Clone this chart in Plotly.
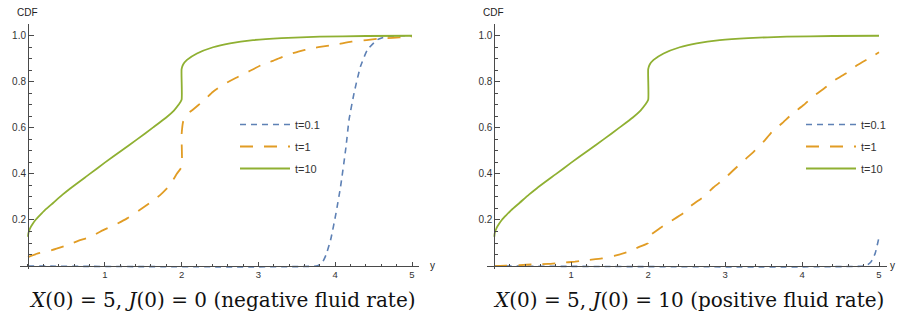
import plotly.graph_objects as go

W, H = 898, 321

# ---------------- data ----------------
series_names = ["t=0.1", "t=1", "t=10"]

# Left panel: X(0)=5, J(0)=0
x_left_t01 = [0, 3.75, 3.79, 3.84, 3.88, 3.94, 4.01, 4.07, 4.14, 4.18, 4.25, 4.33, 4.42, 4.55, 4.68, 4.8, 5.0]
y_left_t01 = [0, 0, 0.005, 0.02, 0.048, 0.113, 0.229, 0.345, 0.516, 0.635, 0.758, 0.867, 0.939, 0.983, 0.997, 1.0, 1.0]

x_left_t1 = [0, 0.13, 0.31, 0.48, 0.66, 0.81, 0.98, 1.13, 1.29, 1.44, 1.59, 1.72, 1.85, 1.94, 2.0, 2.0, 2.02,
             2.06, 2.15, 2.28, 2.41, 2.55, 2.72, 2.87, 3.04, 3.19, 3.37, 3.52, 3.69, 3.87, 4.04, 4.21, 4.41,
             4.56, 4.75, 4.93, 5.0]
y_left_t1 = [0.039, 0.055, 0.069, 0.087, 0.110, 0.127, 0.156, 0.178, 0.207, 0.240, 0.275, 0.308, 0.352, 0.402,
             0.43, 0.57, 0.627, 0.655, 0.680, 0.716, 0.757, 0.789, 0.819, 0.844, 0.873, 0.891, 0.916, 0.931,
             0.945, 0.955, 0.964, 0.974, 0.981, 0.987, 0.991, 0.995, 0.996]

x_t10 = [0, 0.005, 0.015, 0.03, 0.06, 0.1, 0.15, 0.22, 0.33, 0.45, 0.55, 0.8, 1.0, 1.22, 1.42, 1.63, 1.8, 1.9,
         1.96, 2.0, 2.0, 2.02, 2.07, 2.2, 2.41, 2.63, 2.93, 3.3, 3.8, 4.4, 5.0]
y_t10 = [0.127, 0.142, 0.153, 0.166, 0.183, 0.201, 0.219, 0.243, 0.275, 0.310, 0.337, 0.399, 0.449, 0.502, 0.550,
         0.602, 0.645, 0.675, 0.700, 0.722, 0.855, 0.875, 0.895, 0.923, 0.950, 0.967, 0.981, 0.990, 0.996, 0.999, 1.0]

# Right panel: X(0)=5, J(0)=10
x_right_t01 = [0, 4.8, 4.85, 4.9, 4.95, 5.0]
y_right_t01 = [0, 0, 0.005, 0.02, 0.055, 0.125]

x_right_t1 = [0, 0.15, 0.33, 0.51, 0.70, 0.88, 1.05, 1.22, 1.40, 1.57, 1.74, 1.89, 2.0, 2.0, 2.13, 2.28, 2.46,
              2.57, 2.72, 2.85, 2.98, 3.11, 3.24, 3.37, 3.50, 3.61, 3.74, 3.87, 4.02, 4.15, 4.29, 4.43, 4.58,
              4.72, 4.87, 5.0]
y_right_t1 = [0.0, 0.002, 0.004, 0.007, 0.009, 0.014, 0.019, 0.026, 0.033, 0.045, 0.062, 0.084, 0.10, 0.125,
              0.159, 0.192, 0.231, 0.265, 0.301, 0.342, 0.376, 0.417, 0.457, 0.496, 0.540, 0.583, 0.620, 0.660,
              0.699, 0.738, 0.772, 0.808, 0.839, 0.873, 0.902, 0.928]

x_tick_vals = [1, 2, 3, 4, 5]
y_tick_vals = [0.2, 0.4, 0.6, 0.8, 1.0]
y_tick_text = ["0.2", "0.4", "0.6", "0.8", "1.0"]

panel_titles = ["<i>X</i>(0) = 5, <i>J</i>(0) = 0 (negative fluid rate)",
                "<i>X</i>(0) = 5, <i>J</i>(0) = 10 (positive fluid rate)"]

# ---------------- styling ----------------
colors = ["#5E81B5", "#E19C24", "#8FB032"]
dashes = ["6px,5px", "13px,11px", "solid"]
widths = [1.6, 1.8, 1.8]

def px_x(p):
    return p / W

def px_y(p):
    return 1 - p / H

fig = go.Figure()

panels = [
    (x_left_t01, y_left_t01, x_left_t1, y_left_t1, "x", "y", "legend"),
    (x_right_t01, y_right_t01, x_right_t1, y_right_t1, "x2", "y2", "legend2"),
]
for (xb, yb, xo, yo, xa, ya, lg) in panels:
    data = [(xb, yb), (xo, yo), (x_t10, y_t10)]
    for i, (xs, ys) in enumerate(data):
        fig.add_trace(go.Scatter(
            x=xs, y=ys, mode="lines", name=series_names[i],
            line=dict(color=colors[i], width=widths[i], dash=dashes[i], shape="spline", smoothing=0.5),
            xaxis=xa, yaxis=ya, legend=lg, legendgroup=lg + str(i),
            hoverinfo="skip",
        ))

axis_col = "#4a4a4a"
font_family = "Liberation Sans, Arial, sans-serif"

def xaxis_cfg(domain, rng, pos):
    return dict(domain=domain, range=rng, anchor="free", position=pos,
                showline=True, linecolor=axis_col, linewidth=1,
                ticks="inside", ticklen=4.5, tickwidth=1, tickcolor=axis_col,
                tickmode="array", tickvals=x_tick_vals,
                tickfont=dict(size=9.5, color="#333", family=font_family),
                showgrid=False, zeroline=False,
                minor=dict(ticks="inside", ticklen=2.5, tickwidth=1, tickcolor=axis_col,
                           tickmode="linear", tick0=0, dtick=0.2, showgrid=False))

def yaxis_cfg(domain, rng, pos):
    return dict(domain=domain, range=rng, anchor="free", position=pos,
                showline=True, linecolor=axis_col, linewidth=1,
                ticks="inside", ticklen=4.5, tickwidth=1, tickcolor=axis_col,
                tickmode="array", tickvals=y_tick_vals, ticktext=y_tick_text,
                tickfont=dict(size=10, color="#333", family=font_family),
                showgrid=False, zeroline=False,
                minor=dict(ticks="inside", ticklen=2.5, tickwidth=1, tickcolor=axis_col,
                           tickmode="linear", tick0=0, dtick=0.05, showgrid=False))

y_dom = [px_y(268.8), px_y(24)]
y_rng = [-0.012, 1.051]
x_pos_axis = px_y(266)

fig.update_layout(
    width=W, height=H,
    margin=dict(l=0, r=0, t=0, b=0),
    paper_bgcolor="white", plot_bgcolor="white",
    font=dict(family=font_family, color="#333"),
    xaxis=xaxis_cfg([px_x(20), px_x(419.3)], [-0.104, 5.095], x_pos_axis),
    yaxis=yaxis_cfg(y_dom, y_rng, px_x(28)),
    xaxis2=xaxis_cfg([px_x(486.7), px_x(886.7)], [-0.099, 5.1], x_pos_axis),
    yaxis2=yaxis_cfg(y_dom, y_rng, px_x(494.3)),
    legend=dict(x=px_x(235), y=px_y(110), xanchor="left", yanchor="top",
                bgcolor="rgba(0,0,0,0)", font=dict(size=11, color="#333", family=font_family),
                itemwidth=50, tracegroupgap=3),
    legend2=dict(x=px_x(801), y=px_y(110), xanchor="left", yanchor="top",
                 bgcolor="rgba(0,0,0,0)", font=dict(size=11, color="#333", family=font_family),
                 itemwidth=50, tracegroupgap=3),
    showlegend=True,
)

annotations = [
    dict(text="CDF", x=px_x(27), y=px_y(12)),
    dict(text="CDF", x=px_x(493), y=px_y(12)),
    dict(text="y", x=px_x(432), y=px_y(265)),
    dict(text="y", x=px_x(892), y=px_y(265)),
]
for a in annotations:
    fig.add_annotation(xref="paper", yref="paper", x=a["x"], y=a["y"], text=a["text"],
                       showarrow=False, xanchor="center", yanchor="middle",
                       font=dict(size=10, color="#222", family=font_family))

for txt, cx in zip(panel_titles, [222, 688.5]):
    fig.add_annotation(xref="paper", yref="paper", x=px_x(cx), y=px_y(300), text=txt,
                       showarrow=False, xanchor="center", yanchor="middle",
                       font=dict(size=20, color="#111", family="DejaVu Serif, serif"))

fig.write_html("out.html", config={"displayModeBar": False},
               post_script="document.body.style.margin='0';")
